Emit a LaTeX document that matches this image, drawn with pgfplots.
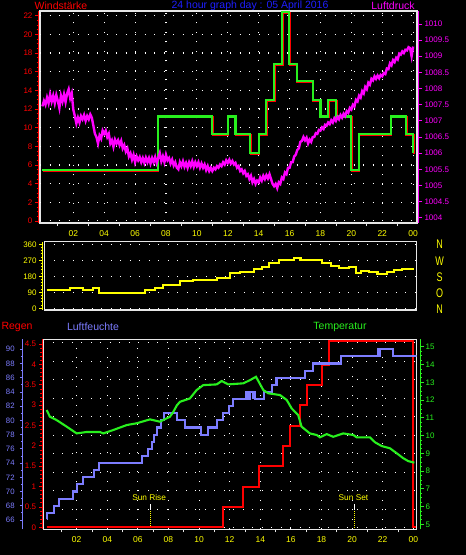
\documentclass[border=0pt]{standalone}
\usepackage{fontspec}
\setmainfont{Liberation Sans}
\usepackage{pgfplots}
\pgfplotsset{compat=1.18}
\usepackage{pgfplotstable}

\definecolor{wred}{RGB}{255,0,0}
\definecolor{wgreen}{RGB}{40,240,30}
\definecolor{pmag}{RGB}{255,0,255}
\definecolor{dyel}{RGB}{255,255,0}
\definecolor{hblue}{RGB}{125,125,255}
\definecolor{tblue}{RGB}{30,30,255}
\definecolor{frm}{RGB}{230,230,230}

\newcommand\tfont{\fontsize{8}{9}\selectfont}
\newcommand\hfont{\fontsize{10.5}{12}\selectfont}

\pgfplotsset{
  panel/.style={scale only axis, anchor=south west,
     axis line style={frm, line width=1.3pt},
     grid style={white, line width=1.1pt, dash pattern=on 1.1pt off 8.4pt},
     major tick length=0pt, minor tick length=3pt, tick align=outside,
     major tick style={draw=none}, minor tick style={frm, line width=0.8pt},
     ytick=\empty, xtick pos=left,
     xticklabel style={font=\fontsize{8.5}{9}\selectfont, text=dyel, anchor=center, yshift=-10.5pt}},
  gl/.style={white, line width=1.1pt, dash pattern=on 1.1pt off 8.4pt, forget plot},
  onlyaxis/.style={scale only axis, anchor=south west, axis x line=none, xmin=0, xmax=1,
     xtick=\empty,
     tick align=outside, major tick length=3.5pt, minor tick length=2pt,
     yticklabel style={font=\tfont, inner sep=1pt}},
  dataonly/.style={scale only axis, anchor=south west, hide axis, xtick=\empty, ytick=\empty},
}

\pgfplotstableread{
h w
0 5.5
7.46 11.2
10.98 9.3
12.0 11.2
12.5 9.3
13.46 7.3
14.0 9.3
14.47 13.0
15.0 16.8
15.5 22.4
15.98 16.8
16.46 15.0
17.5 13.0
18.0 11.2
18.5 13.0
19.0 11.2
20.0 5.5
20.47 9.3
22.54 11.2
23.53 9.3
24.0 7.3
}\windtab

\pgfplotstableread{
h p
0.0 1007.45
0.1 1007.62
0.2 1007.5
0.3 1007.72
0.4 1007.55
0.5 1007.82
0.6 1007.6
0.7 1007.78
0.8 1007.55
0.9 1007.8
1.0 1007.62
1.1 1007.4
1.2 1007.78
1.3 1007.6
1.4 1007.82
1.5 1007.58
1.6 1007.85
1.7 1007.98
1.8 1007.7
1.9 1007.85
2.0 1007.35
2.1 1007.15
2.2 1006.92
2.3 1007.1
2.4 1006.95
2.5 1007.15
2.6 1007.05
2.7 1007.18
2.8 1007.0
2.9 1007.15
3.0 1007.05
3.1 1007.2
3.2 1007.1
3.3 1006.85
3.4 1006.6
3.5 1006.5
3.6 1006.3
3.7 1006.55
3.8 1006.45
3.9 1006.7
4.0 1006.6
4.1 1006.7
4.2 1006.5
4.3 1006.6
4.4 1006.3
4.5 1006.4
4.6 1006.2
4.7 1006.42
4.8 1006.3
4.9 1006.4
5.0 1006.25
5.1 1006.38
5.2 1006.15
5.3 1006.25
5.4 1006.05
5.5 1006.15
5.6 1005.9
5.7 1006.0
5.8 1005.8
5.9 1005.95
6.0 1005.72
6.1 1005.9
6.2 1005.78
6.3 1005.88
6.4 1005.72
6.5 1005.85
6.6 1005.7
6.7 1005.86
6.8 1005.72
6.9 1005.85
7.0 1005.68
7.1 1005.85
7.2 1005.72
7.3 1005.88
7.4 1005.7
7.5 1005.85
7.6 1006.0
7.7 1005.75
7.8 1005.9
7.9 1005.72
8.0 1005.95
8.1 1005.78
8.2 1005.85
8.3 1005.68
8.4 1005.8
8.5 1005.62
8.6 1005.72
8.7 1005.55
8.8 1005.5
8.9 1005.72
9.0 1005.6
9.1 1005.75
9.2 1005.58
9.3 1005.7
9.4 1005.55
9.5 1005.72
9.6 1005.6
9.7 1005.75
9.8 1005.58
9.9 1005.72
10.0 1005.6
10.1 1005.72
10.2 1005.55
10.3 1005.68
10.4 1005.55
10.5 1005.65
10.6 1005.48
10.7 1005.6
10.8 1005.45
10.9 1005.55
11.0 1005.45
11.1 1005.55
11.2 1005.5
11.3 1005.6
11.4 1005.55
11.5 1005.65
11.6 1005.6
11.7 1005.72
11.8 1005.65
11.9 1005.78
12.0 1005.7
12.1 1005.8
12.2 1005.68
12.3 1005.76
12.4 1005.65
12.5 1005.7
12.6 1005.55
12.7 1005.6
12.8 1005.45
12.9 1005.5
13.0 1005.38
13.1 1005.45
13.2 1005.3
13.3 1005.35
13.4 1005.2
13.5 1005.3
13.6 1005.1
13.7 1005.2
13.8 1005.05
13.9 1005.15
14.0 1005.1
14.1 1005.25
14.2 1005.15
14.3 1005.3
14.4 1005.2
14.5 1005.32
14.6 1005.22
14.7 1005.35
14.8 1005.2
14.9 1005.05
15.0 1004.98
15.1 1005.05
15.2 1004.92
15.3 1005.1
15.4 1005.05
15.5 1005.25
15.6 1005.2
15.7 1005.4
15.8 1005.35
15.9 1005.55
16.0 1005.55
16.1 1005.72
16.2 1005.72
16.3 1005.9
16.4 1005.95
16.5 1006.1
16.6 1006.15
16.7 1006.35
16.8 1006.38
16.9 1006.5
17.0 1006.4
17.1 1006.48
17.2 1006.3
17.3 1006.42
17.4 1006.35
17.5 1006.5
17.6 1006.5
17.7 1006.62
17.8 1006.6
17.9 1006.72
18.0 1006.7
18.1 1006.8
18.2 1006.75
18.3 1006.88
18.4 1006.85
18.5 1006.95
18.6 1006.9
18.7 1007.02
18.8 1006.95
18.9 1007.08
19.0 1007.0
19.1 1007.12
19.2 1007.05
19.3 1007.18
19.4 1007.1
19.5 1007.22
19.6 1007.15
19.7 1007.3
19.8 1007.25
19.9 1007.4
20.0 1007.35
20.1 1007.5
20.2 1007.45
20.3 1007.65
20.4 1007.6
20.5 1007.78
20.6 1007.72
20.7 1007.92
20.8 1007.85
20.9 1008.05
21.0 1007.98
21.1 1008.18
21.2 1008.12
21.3 1008.3
21.4 1008.25
21.5 1008.38
21.6 1008.3
21.7 1008.4
21.8 1008.32
21.9 1008.42
22.0 1008.38
22.1 1008.48
22.2 1008.45
22.3 1008.62
22.4 1008.6
22.5 1008.78
22.6 1008.72
22.7 1008.88
22.8 1008.82
22.9 1008.95
23.0 1008.9
23.1 1009.08
23.2 1009.05
23.3 1009.15
23.4 1009.1
23.5 1009.2
23.6 1009.18
23.7 1009.28
23.8 1009.25
23.9 1009.0
24.0 1009.3
}\presstab

\pgfplotstableread{
h d
0.28 105
1.78 116
2.64 103
3.29 116
3.67 84
6.62 103
7.27 115
7.8 133
8.9 155
9.75 160
11.3 172
12.14 197
12.79 206
13.65 221
14.2 234
14.62 253
15.27 272
16.24 285
16.67 272
18.08 253
18.62 238
19.15 225
19.8 232
20.23 197
20.56 211
21.1 204
21.64 195
22.28 203
22.7 214
23.23 223
24.0 223
}\dirtab

\pgfplotstableread{
h rh
0.04 66.2
0.06 67
0.52 68
0.86 69
1.78 70
2.04 71
2.39 72
3.13 73
3.48 74
6.25 75
6.68 76
6.9 77
7.05 78
7.23 79
7.51 80
7.73 81
8.54 80
9.08 79
10.12 78
10.6 79
11.19 80
11.54 81
11.98 82
12.24 83
13.1 84
13.2 83
13.3 84
13.5 83.2
13.55 84
13.65 83
14.26 84
14.75 85
15.0 86
15.05 85
15.1 86
16.92 87
17.43 88
19.25 89
21.7 90
21.78 89
21.85 90
22.65 89
24.3 89
}\humtab

\pgfplotstableread{
h r
0.04 0
11.54 0.5
12.89 1.0
13.92 1.5
15.5 2.0
15.94 2.5
16.59 3.0
17.07 3.5
18.01 4.0
18.51 4.58
24.0 0
24.16 0
}\raintab

\pgfplotstableread{
h t
0.04 11.44
0.25 11.06
0.69 10.87
1.35 10.5
2.0 10.12
2.65 10.2
3.52 10.2
3.74 10.12
4.39 10.31
5.27 10.59
5.92 10.69
6.79 10.91
7.44 10.78
8.1 11.06
8.32 11.34
8.55 11.7
8.75 11.9
9.4 12.09
9.84 12.56
10.27 12.84
11.15 12.88
11.48 13.07
11.91 12.88
12.89 12.94
13.33 13.12
13.72 13.31
14.2 12.56
14.52 12.38
15.29 12.28
15.73 12.0
16.05 11.53
16.48 11.15
16.7 10.5
17.24 10.12
17.69 10.03
17.9 9.9
18.34 10.08
18.77 9.93
19.42 10.12
20.08 10.03
20.3 9.9
21.17 9.9
21.5 9.62
21.93 9.41
22.48 9.28
22.92 9.0
23.35 8.72
23.67 8.56
24.07 8.47
}\temptab

\begin{document}
\begin{tikzpicture}
\useasboundingbox (0,0) rectangle (466pt,555pt);
\fill[black] (0,0) rectangle (466pt,555pt);

% ---------------- titles
\node[text=wred, font=\hfont] at (61pt,549pt) {Windstärke};
\node[text=tblue, font=\hfont] at (250pt,549pt) {24 hour graph day : 05 April 2016};
\node[text=pmag, font=\hfont] at (393pt,549pt) {Luftdruck};
\node[text=wred, font=\hfont] at (17pt,228.5pt) {Regen};
\node[text=hblue, font=\hfont] at (93pt,228.5pt) {Luftfeuchte};
\node[text=wgreen, font=\hfont] at (340pt,228.5pt) {Temperatur};

% ================= TOP PANEL =================
\begin{axis}[panel, at={(40pt,332pt)}, width=377pt, height=212pt,
  xmin=-0.155, xmax=24.25, ymin=-0.21, ymax=22.5,
  xtick={2,4,...,24}, xticklabels={02,04,06,08,10,12,14,16,18,20,22,00},
  minor xtick={1,3,...,23},
  xmajorgrids]
\pgfplotsinvokeforeach{2,4,6,8,10,12,14,16,18,20,22}{
  \addplot[gl] coordinates {(-0.155,#1) (24.25,#1)};
}
\addplot[gl] coordinates {(-0.155,0.03) (24.25,0.03)};
\addplot[wred, line width=2.1pt, const plot] table[x expr=\thisrow{h}+0.04, y expr=\thisrow{w}-0.1]{\windtab};
\addplot[wgreen, line width=2.1pt, const plot] table[x=h, y=w]{\windtab};
\end{axis}

\begin{axis}[dataonly, at={(40pt,332pt)}, width=377pt, height=212pt,
  xmin=-0.155, xmax=24.25, ymin=1003.84, ymax=1010.4]
\addplot[pmag, line width=2.4pt] table[x=h, y=p]{\presstab};
\end{axis}

% wind axis (left, red)
\begin{axis}[onlyaxis, at={(38.6pt,332pt)}, width=377pt, height=212pt,
  axis y line*=left, ymin=-0.21, ymax=22.5,
  ytick={0,2,...,22}, yticklabels={0,2,4,6,8,10,12,14,16,18,20,22},
  minor y tick num=3,
  y axis line style={wred, line width=1pt}, tick style={wred, line width=0.8pt},
  yticklabel style={text=wred, xshift=-1.5pt}]
\end{axis}

% pressure axis (right, magenta)
\begin{axis}[onlyaxis, at={(41.8pt,332pt)}, width=377pt, height=212pt,
  axis y line*=right, ymin=1003.84, ymax=1010.4,
  ytick={1004,1004.5,...,1010},
  yticklabels={1004,1004.5,1005,1005.5,1006,1006.5,1007,1007.5,1008,1008.5,1009,1009.5,1010},
  minor y tick num=4,
  y axis line style={pmag, line width=1pt}, tick style={pmag, line width=0.8pt},
  yticklabel style={text=pmag, xshift=1pt}]
\end{axis}

% ================= MIDDLE PANEL =================
\begin{axis}[panel, at={(44.3pt,245pt)}, width=372.4pt, height=68.3pt,
  xmin=0.13, xmax=24.17, ymin=-9.6, ymax=374.6,
  xtick=\empty]
\pgfplotsinvokeforeach{0,90,180,270,360}{
  \addplot[gl] coordinates {(0.13,#1) (24.17,#1)};
}
\addplot[dyel, line width=2.1pt, const plot] table[x=h, y=d]{\dirtab};
\end{axis}

\begin{axis}[onlyaxis, at={(42.8pt,245pt)}, width=372.4pt, height=68.3pt,
  axis y line*=left, ymin=-9.6, ymax=374.6,
  ytick={0,90,180,270,360}, yticklabels={0,90,180,270,360},
  minor y tick num=4,
  y axis line style={dyel, line width=1pt}, tick style={dyel, line width=0.8pt},
  yticklabel style={text=dyel, xshift=-1.5pt}]
\end{axis}

\foreach \l/\yy in {N/310.7, W/294, S/277.5, O/261.5, N/245.5}{
  \node[text=dyel, font=\fontsize{12.5}{13}\selectfont, xscale=0.72] at (439.5pt,\yy pt) {\l};
}

% ================= BOTTOM PANEL =================
\begin{axis}[panel, at={(43.3pt,25.7pt)}, width=373.2pt, height=190pt,
  xmin=-0.18, xmax=24.21, ymin=0, ymax=190,
  xtick={2,4,...,24}, xticklabels={02,04,06,08,10,12,14,16,18,20,22,00},
  minor xtick={1,3,...,23},
  xmajorgrids]
\pgfplotsinvokeforeach{1.6,20.1,38.6,57.1,75.6,94.1,112.6,131.1,149.6,168.1,186.6}{
  \addplot[gl] coordinates {(-0.18,#1) (24.21,#1)};
}
\addplot[white, line width=0.9pt] coordinates {(6.84,19.3) (6.84,25.3)};
\addplot[dyel, line width=0.9pt, dash pattern=on 1pt off 1pt] coordinates {(6.84,1.5) (6.84,19.3)};
\addplot[white, line width=0.9pt] coordinates {(20.14,19.3) (20.14,25.3)};
\addplot[dyel, line width=0.9pt, dash pattern=on 1pt off 1pt] coordinates {(20.14,1.5) (20.14,19.3)};
\node[text=dyel, font=\fontsize{8.3}{9}\selectfont] at (axis cs:6.74,31.6) {Sun Rise};
\node[text=dyel, font=\fontsize{8.3}{9}\selectfont] at (axis cs:20.09,31.6) {Sun Set};
\end{axis}

% rain data
\begin{axis}[dataonly, at={(43.3pt,25.7pt)}, width=373.2pt, height=190pt,
  xmin=-0.18, xmax=24.21, ymin=-0.05, ymax=4.62]
\addplot[wred, line width=2.1pt, const plot] table[x=h, y=r]{\raintab};
\end{axis}
% humidity data
\begin{axis}[dataonly, at={(43.3pt,25.7pt)}, width=373.2pt, height=190pt,
  xmin=-0.18, xmax=24.21, ymin=64.69, ymax=91.4]
\addplot[hblue, line width=2.1pt, const plot] table[x=h, y=rh]{\humtab};
\end{axis}
% temperature data
\begin{axis}[dataonly, at={(43.3pt,25.7pt)}, width=373.2pt, height=190pt,
  xmin=-0.18, xmax=24.21, ymin=4.72, ymax=15.42]
\addplot[wgreen, line width=2.1pt] table[x=h, y=t]{\temptab};
\end{axis}

% rain axis
\begin{axis}[onlyaxis, at={(42.3pt,25.7pt)}, width=373.2pt, height=190pt,
  axis y line*=left, ymin=-0.05, ymax=4.62,
  ytick={0,0.5,...,4.5}, yticklabels={0,0.5,1,1.5,2,2.5,3,3.5,4,4.5},
  minor y tick num=4,
  y axis line style={wred, line width=1pt}, tick style={wred, line width=0.8pt},
  yticklabel style={text=wred, inner sep=0.5pt, xshift=-2pt}]
\end{axis}
% humidity axis
\begin{axis}[onlyaxis, at={(22.3pt,25.7pt)}, width=373.2pt, height=190pt,
  axis y line*=left, ymin=64.69, ymax=91.4,
  ytick={66,68,...,90}, yticklabels={66,68,70,72,74,76,78,80,82,84,86,88,90},
  minor y tick num=1, major tick length=2.5pt, minor tick length=1.5pt,
  y axis line style={hblue, line width=1.4pt}, tick style={hblue, line width=0.8pt},
  yticklabel style={text=hblue, font=\fontsize{7.8}{8.5}\selectfont, inner sep=0.5pt, xshift=-4.5pt}]
\end{axis}
% temperature axis
\begin{axis}[onlyaxis, at={(46.8pt,25.7pt)}, width=373.2pt, height=190pt,
  axis y line*=right, ymin=4.72, ymax=15.42,
  ytick={5,6,...,15}, yticklabels={5,6,7,8,9,10,11,12,13,14,15},
  minor y tick num=3,
  y axis line style={wgreen, line width=1pt}, tick style={wgreen, line width=0.8pt},
  yticklabel style={text=wgreen, xshift=1pt}]
\end{axis}

\end{tikzpicture}
\end{document}
